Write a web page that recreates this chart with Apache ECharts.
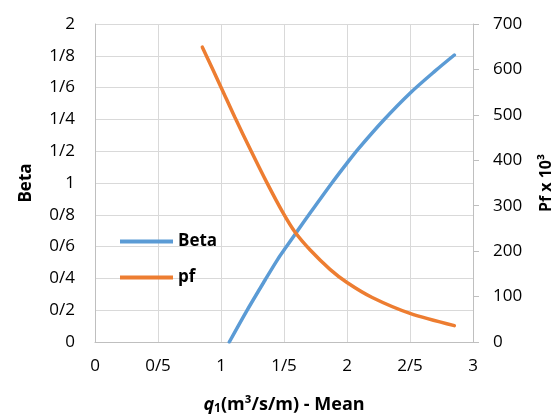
<!DOCTYPE html>
<html>
<head>
<meta charset="utf-8">
<script src="https://cdn.jsdelivr.net/npm/echarts@6/dist/echarts.min.js"></script>
<style>
html,body{margin:0;padding:0;background:#fff;}
#chart{width:556px;height:414px;}
</style>
</head>
<body>
<div id="chart"></div>
<script>
// Data
var betaX = [1.066, 1.2, 1.35, 1.45, 1.52, 1.59, 1.72, 1.88, 2.0, 2.09, 2.29, 2.5, 2.7, 2.852];
var betaY = [0.0, 0.19, 0.39, 0.52, 0.60, 0.68, 0.825, 1.0, 1.125, 1.215, 1.395, 1.565, 1.705, 1.805];
var pfX = [0.852, 1.0, 1.111, 1.238, 1.362, 1.495, 1.587, 1.706, 1.865, 2.0, 2.2, 2.5, 2.852];
var pfY = [649, 561, 494, 421, 352, 283, 242, 203, 160, 131, 98, 63, 36];
var xTickLabels = ['0', '0/5', '1', '1/5', '2', '2/5', '3'];
var betaTickLabels = ['0', '0/2', '0/4', '0/6', '0/8', '1', '1/2', '1/4', '1/6', '1/8', '2'];
var pfTickLabels = ['0', '100', '200', '300', '400', '500', '600', '700'];

var betaData = betaX.map(function (x, i) { return [x, betaY[i]]; });
var pfData = pfX.map(function (x, i) { return [x, pfY[i]]; });

var FONT = 'Open Sans';
var GRID_COLOR = '#D9D9D9';
var AXIS_COLOR = '#BFBFBF';

var chart = echarts.init(document.getElementById('chart'), null, {renderer: 'canvas'});
chart.setOption({
  animation: false,
  backgroundColor: '#ffffff',
  textStyle: {fontFamily: FONT},
  grid: {left: 95, right: 83, top: 24, bottom: 72, containLabel: false, outerBoundsMode: 'none'},
  legend: {
    orient: 'vertical',
    left: 115,
    top: 228,
    itemWidth: 53,
    itemHeight: 4,
    itemGap: 19,
    icon: 'rect',
    textStyle: {fontFamily: FONT, fontSize: 17, fontWeight: 'bold', color: '#000'},
    data: ['Beta', 'pf']
  },
  xAxis: {
    type: 'value',
    min: 0, max: 3, interval: 0.5,
    name: '{q|q}{sub|1}{n|(m³/s/m) - Mean}',
    nameLocation: 'middle',
    nameGap: 52,
    nameTextStyle: {
      rich: {
        q: {fontFamily: FONT, fontSize: 18, fontWeight: 'bold', fontStyle: 'italic', color: '#000'},
        sub: {fontFamily: FONT, fontSize: 12, fontWeight: 'bold', color: '#000', padding: [9, 0, 0, 0]},
        n: {fontFamily: FONT, fontSize: 18, fontWeight: 'bold', color: '#000'}
      }
    },
    axisLine: {show: true, lineStyle: {color: AXIS_COLOR, width: 1}},
    axisTick: {show: false},
    axisLabel: {
      margin: 16, fontSize: 17, color: '#000', fontFamily: FONT,
      formatter: function (v) { return xTickLabels[Math.round(v / 0.5)]; }
    },
    splitLine: {show: true, lineStyle: {color: GRID_COLOR, width: 1}}
  },
  yAxis: [
    {
      type: 'value',
      min: 0, max: 2, interval: 0.2,
      name: 'Beta',
      nameLocation: 'middle',
      nameGap: 60,
      nameRotate: 90,
      nameTextStyle: {fontFamily: FONT, fontSize: 17, fontWeight: 'bold', color: '#000'},
      axisLine: {show: true, lineStyle: {color: AXIS_COLOR, width: 1}},
      axisTick: {show: false},
      axisLabel: {
        margin: 20, fontSize: 17, color: '#000', fontFamily: FONT,
        formatter: function (v) { return betaTickLabels[Math.round(v / 0.2)]; }
      },
      splitLine: {show: true, lineStyle: {color: GRID_COLOR, width: 1}}
    },
    {
      type: 'value',
      min: 0, max: 700, interval: 100,
      position: 'right',
      name: 'Pf x 10³',
      nameLocation: 'middle',
      nameGap: 65,
      nameRotate: 90,
      nameTextStyle: {fontFamily: FONT, fontSize: 16, fontWeight: 'bold', color: '#000'},
      axisLine: {show: true, lineStyle: {color: AXIS_COLOR, width: 1}},
      axisTick: {show: true, length: 6, inside: false, lineStyle: {color: AXIS_COLOR}},
      axisLabel: {
        margin: 20, fontSize: 17, color: '#000', fontFamily: FONT,
        formatter: function (v) { return pfTickLabels[Math.round(v / 100)]; }
      },
      splitLine: {show: false}
    }
  ],
  series: [
    {
      name: 'Beta', type: 'line', yAxisIndex: 0, data: betaData,
      smooth: 0.3, showSymbol: false, symbol: 'none',
      itemStyle: {color: '#5B9BD5'},
      lineStyle: {color: '#5B9BD5', width: 3.5, cap: 'round'}
    },
    {
      name: 'pf', type: 'line', yAxisIndex: 1, data: pfData,
      smooth: 0.3, showSymbol: false, symbol: 'none',
      itemStyle: {color: '#ED7D31'},
      lineStyle: {color: '#ED7D31', width: 3.5, cap: 'round'}
    }
  ]
});
</script>
</body>
</html>
